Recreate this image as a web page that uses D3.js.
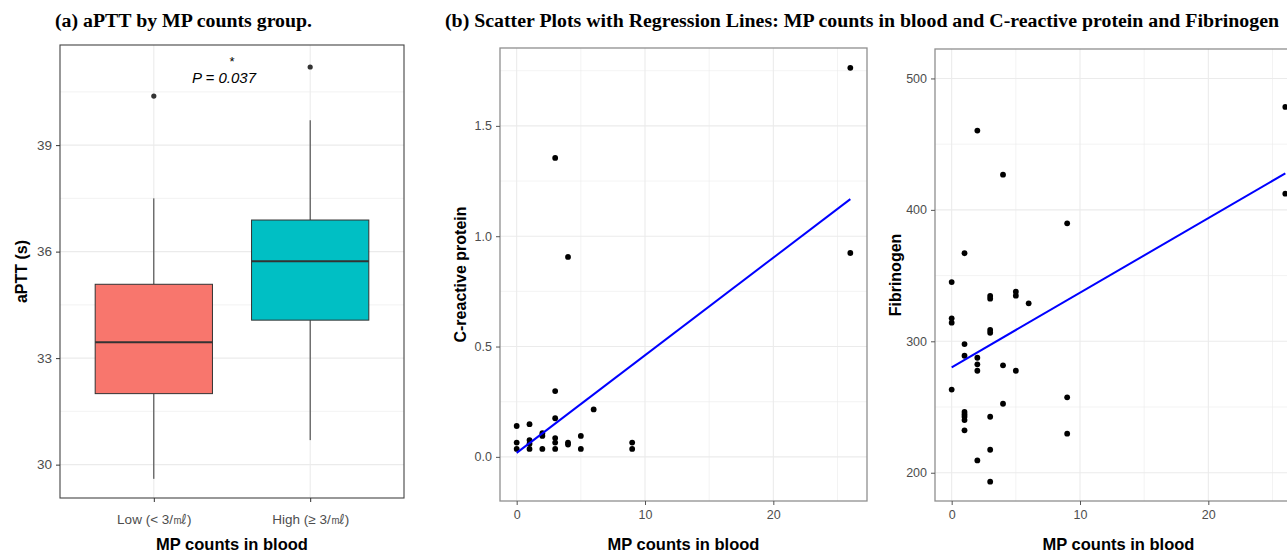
<!DOCTYPE html>
<html><head><meta charset="utf-8">
<script src="https://cdn.jsdelivr.net/npm/d3@7"></script>
<style>
html,body{margin:0;padding:0;background:#fff;}
svg{display:block;}
text{font-family:"Liberation Sans",Arial,sans-serif;}
text.ttl{font-family:"Liberation Serif","Times New Roman",serif;}
</style></head>
<body>
<svg id="chart" width="1287" height="552"></svg>
<script>
// ---------- DATA ----------
const groups = ["Low (< 3/㎖)", "High (≥ 3/㎖)"];
const boxQ1 = [32.0, 34.07];
const boxMedian = [33.45, 35.73];
const boxQ3 = [35.08, 36.89];
const whiskerLow = [29.6, 30.69];
const whiskerHigh = [37.5, 39.7];
const outliers = [[40.38], [41.2]];
const aTicks = [30, 33, 36, 39];
const aMinor = [31.5, 34.5, 37.5, 40.5];

const crpX = [0,0,0, 1,1,1,1, 2,2,2, 3,3,3,3,3,3, 4,4,4, 5,5, 6, 9,9, 26,26];
const crpY = [0.14,0.065,0.036, 0.148,0.076,0.060,0.036, 0.107,0.095,0.036,
              1.355,0.298,0.175,0.085,0.065,0.036, 0.906,0.065,0.056, 0.095,0.036, 0.215, 0.065,0.036, 1.763,0.924];
const crpFitX = [0, 26];
const crpFitY = [0.018, 1.168];
const crpTicks = [0.0, 0.5, 1.0, 1.5];
const crpMinor = [0.25, 0.75, 1.25, 1.75];

const fibX = [0,0,0,0, 1,1,1,1,1,1,1,1, 2,2,2,2,2, 3,3,3,3,3,3,3, 4,4,4, 5,5,5, 6, 9,9,9, 26,26];
const fibY = [345.1,317.5,314.2,263.3, 367,297.9,289,246.2,244.4,242.6,240.1,232.3,
              460.3,287.5,282.5,277.6,209.4, 334.5,332.4,308.6,306.5,242.6,217.5,193.2,
              426.8,281.7,252.5, 337.7,334.7,277.6, 328.9, 389.8,257.4,229.7, 478.3,412.3];
const fibFitX = [0, 26];
const fibFitY = [280.2, 427.8];
const fibTicks = [200, 300, 400, 500];
const fibMinor = [250, 350, 450];

const mpTicks = [0, 10, 20];
const mpMinor = [5, 15, 25];

// ---------- DRAW ----------
const svg = d3.select("#chart");
const GRID = "#EBEBEB", TICKC = "#4D4D4D";

function title(txt, x, y, len){
  svg.append("text").attr("class", "ttl").attr("x", x).attr("y", y)
    .attr("font-weight", "bold").attr("font-size", 18.5)
    .attr("textLength", len).attr("lengthAdjust", "spacingAndGlyphs")
    .attr("fill", "#000").text(txt);
}
title("(a) aPTT by MP counts group.", 55, 27, 257);
title("(b) Scatter Plots with Regression Lines: MP counts in blood and C-reactive protein and Fibrinogen", 445, 27, 834);

function styleAxis(g){
  g.select(".domain").remove();
  g.selectAll(".tick line").attr("stroke", "#333").attr("stroke-width", 1);
  g.selectAll(".tick text").attr("fill", TICKC);
}

// ---- Panel (a) ----
(function(){
  const L = 60, R = 404, T = 45, B = 498;
  const x = d3.scalePoint().domain(groups).range([L, R]).padding(0.6);
  const y = d3.scaleLinear().domain([29.06, 41.82]).range([B, T]);
  const g = svg.append("g");
  g.selectAll(".gmin").data(aMinor).join("line")
    .attr("x1", L).attr("x2", R).attr("y1", d => y(d)).attr("y2", d => y(d))
    .attr("stroke", GRID).attr("stroke-width", 0.6);
  g.selectAll(".gmaj").data(aTicks).join("line")
    .attr("x1", L).attr("x2", R).attr("y1", d => y(d)).attr("y2", d => y(d))
    .attr("stroke", GRID).attr("stroke-width", 1.1);
  g.selectAll(".gv").data(groups).join("line")
    .attr("x1", d => x(d)).attr("x2", d => x(d)).attr("y1", T).attr("y2", B)
    .attr("stroke", GRID).attr("stroke-width", 1.1);

  const bw = x.step() * 0.75;
  const fills = ["#F8766D", "#00BFC4"];
  groups.forEach((gname, i) => {
    const cx = x(gname);
    g.append("line").attr("x1", cx).attr("x2", cx)
      .attr("y1", y(whiskerLow[i])).attr("y2", y(boxQ1[i]))
      .attr("stroke", "#333").attr("stroke-width", 1);
    g.append("line").attr("x1", cx).attr("x2", cx)
      .attr("y1", y(boxQ3[i])).attr("y2", y(whiskerHigh[i]))
      .attr("stroke", "#333").attr("stroke-width", 1);
    g.append("rect").attr("x", cx - bw/2).attr("width", bw)
      .attr("y", y(boxQ3[i])).attr("height", y(boxQ1[i]) - y(boxQ3[i]))
      .attr("fill", fills[i]).attr("stroke", "#333").attr("stroke-width", 1);
    g.append("line").attr("x1", cx - bw/2).attr("x2", cx + bw/2)
      .attr("y1", y(boxMedian[i])).attr("y2", y(boxMedian[i]))
      .attr("stroke", "#333").attr("stroke-width", 2);
    outliers[i].forEach(v => {
      g.append("circle").attr("cx", cx).attr("cy", y(v)).attr("r", 2.6).attr("fill", "#333");
    });
  });
  g.append("rect").attr("x", L).attr("y", T).attr("width", R - L).attr("height", B - T)
    .attr("fill", "none").attr("stroke", "#444").attr("stroke-width", 1.1);

  const ax = g.append("g").attr("transform", `translate(0,${B})`)
    .call(d3.axisBottom(x).tickSize(4).tickPadding(12));
  styleAxis(ax); ax.selectAll(".tick text").attr("font-size", 13.5);
  const ay = g.append("g").attr("transform", `translate(${L},0)`)
    .call(d3.axisLeft(y).tickValues(aTicks).tickSize(4).tickPadding(4));
  styleAxis(ay); ay.selectAll(".tick text").attr("font-size", 13.5);

  const mid = (x(groups[0]) + x(groups[1])) / 2;
  g.append("text").attr("x", mid).attr("y", 66).attr("text-anchor", "middle")
    .attr("font-size", 13).attr("fill", "#000").text("*");
  g.append("text").attr("x", 224).attr("y", 83).attr("text-anchor", "middle")
    .attr("font-size", 15).attr("font-style", "italic").attr("fill", "#000").text("P = 0.037");

  g.append("text").attr("x", (L + R) / 2).attr("y", 550).attr("text-anchor", "middle")
    .attr("font-weight", "bold").attr("font-size", 16.5).attr("fill", "#000").text("MP counts in blood");
  g.append("text").attr("transform", `translate(27,${(T + B) / 2}) rotate(-90)`)
    .attr("text-anchor", "middle").attr("font-weight", "bold").attr("font-size", 16)
    .attr("fill", "#000").text("aPTT (s)");
})();

// ---- Scatter panels ----
function scatter(opt){
  const {L, R, T, B, ydom, xs, ys, fx, fy, ticks, minor, ylab, ylabX} = opt;
  const x = d3.scaleLinear().domain([-1.3, 27.3]).range([L, R]);
  const y = d3.scaleLinear().domain(ydom).range([B, T]);
  const g = svg.append("g");
  g.selectAll(".hm").data(minor).join("line")
    .attr("x1", L).attr("x2", R).attr("y1", d => y(d)).attr("y2", d => y(d))
    .attr("stroke", GRID).attr("stroke-width", 0.6);
  g.selectAll(".vm").data(mpMinor).join("line")
    .attr("y1", T).attr("y2", B).attr("x1", d => x(d)).attr("x2", d => x(d))
    .attr("stroke", GRID).attr("stroke-width", 0.6);
  g.selectAll(".hM").data(ticks).join("line")
    .attr("x1", L).attr("x2", R).attr("y1", d => y(d)).attr("y2", d => y(d))
    .attr("stroke", GRID).attr("stroke-width", 1.1);
  g.selectAll(".vM").data(mpTicks).join("line")
    .attr("y1", T).attr("y2", B).attr("x1", d => x(d)).attr("x2", d => x(d))
    .attr("stroke", GRID).attr("stroke-width", 1.1);

  g.selectAll(".pt").data(xs.map((v, i) => [v, ys[i]])).join("circle")
    .attr("cx", d => x(d[0])).attr("cy", d => y(d[1])).attr("r", 2.9).attr("fill", "#000");

  const line = d3.line().x(d => x(d[0])).y(d => y(d[1]));
  g.append("path").datum(fx.map((v, i) => [v, fy[i]])).attr("d", line)
    .attr("fill", "none").attr("stroke", "#0000FF").attr("stroke-width", 2);

  g.append("rect").attr("x", L).attr("y", T).attr("width", R - L).attr("height", B - T)
    .attr("fill", "none").attr("stroke", "#8f8f8f").attr("stroke-width", 1.3);

  const ax = g.append("g").attr("transform", `translate(0,${B})`)
    .call(d3.axisBottom(x).tickValues(mpTicks).tickFormat(d3.format("d")).tickSize(4).tickPadding(5));
  styleAxis(ax); ax.selectAll(".tick text").attr("font-size", 12.5);
  const ay = g.append("g").attr("transform", `translate(${L},0)`)
    .call(d3.axisLeft(y).tickValues(ticks).tickFormat(opt.fmt).tickSize(4).tickPadding(4));
  styleAxis(ay); ay.selectAll(".tick text").attr("font-size", 12.5);
  ax.selectAll(".tick line").attr("stroke", "#555");
  ay.selectAll(".tick line").attr("stroke", "#555");

  g.append("text").attr("x", (L + R) / 2).attr("y", 550).attr("text-anchor", "middle")
    .attr("font-weight", "bold").attr("font-size", 16.5).attr("fill", "#000").text("MP counts in blood");
  g.append("text").attr("transform", `translate(${ylabX},${(T + B) / 2}) rotate(-90)`)
    .attr("text-anchor", "middle").attr("font-weight", "bold").attr("font-size", 16)
    .attr("fill", "#000").text(ylab);
}

scatter({L: 500, R: 867, T: 48, B: 501, ydom: [-0.2, 1.853], xs: crpX, ys: crpY,
  fx: crpFitX, fy: crpFitY, ticks: crpTicks, minor: crpMinor, fmt: d3.format(".1f"),
  ylab: "C-reactive protein", ylabX: 466});
scatter({L: 935, R: 1302, T: 49, B: 501, ydom: [178.5, 522.4], xs: fibX, ys: fibY,
  fx: fibFitX, fy: fibFitY, ticks: fibTicks, minor: fibMinor, fmt: d3.format("d"),
  ylab: "Fibrinogen", ylabX: 901});
</script>
</body></html>
